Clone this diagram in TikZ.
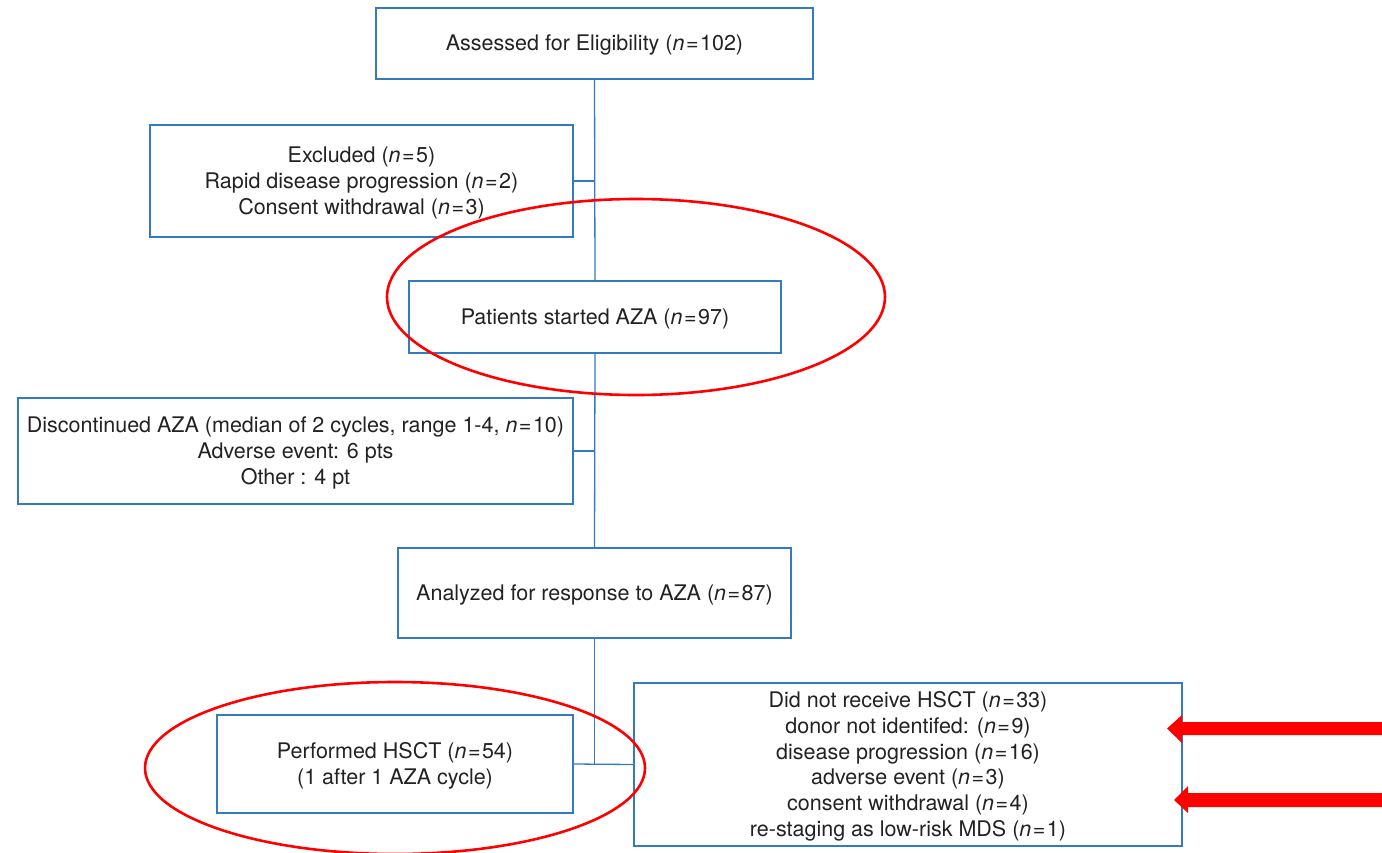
\documentclass[tikz,border=0pt]{standalone}
\usepackage{fontspec}
\setmainfont{TeX Gyre Heros}
\usetikzlibrary{positioning}
\definecolor{boxblue}{RGB}{52,122,190}
\definecolor{txt}{RGB}{34,34,34}
\newcommand{\nn}[1]{(\textit{n}\kern1.5pt=\kern1.5pt#1)}
\begin{document}
\begin{tikzpicture}[x=1pt,y=-1pt,
  flowbox/.style={draw=boxblue,line width=1.3pt,align=center,text=txt,inner sep=0pt,
    text depth=1pt,font=\fontsize{21.5}{25.8}\selectfont},
  link/.style={draw=boxblue,line width=1.3pt},
  redring/.style={draw=red,line width=2.6pt}]
\useasboundingbox (0,0) rectangle (1382,852);
\node[flowbox,minimum width=437pt,minimum height=71pt] (assess) at (594.5,43.5) {Assessed for Eligibility \nn{102}};
\node[flowbox,minimum width=423pt,minimum height=112pt] (excl) at (361.5,181) {Excluded \nn{5}\\Rapid disease progression \nn{2}\\Consent withdrawal \nn{3}};
\node[flowbox,minimum width=372pt,minimum height=72pt] (start) at (595,317) {Patients started AZA \nn{97}};
\node[flowbox,minimum width=555pt,minimum height=106pt] (disc) at (295.5,451) {Discontinued AZA (median of 2 cycles, range 1-4, \textit{n}\kern1.5pt=\kern1.5pt10)\\Adverse event: 6 pts\\Other : 4 pt};
\node[flowbox,minimum width=393pt,minimum height=90pt] (anal) at (594.5,593) {Analyzed for response to AZA \nn{87}};
\node[flowbox,minimum width=356pt,minimum height=98pt] (hsct) at (395,764) {Performed HSCT \nn{54}\\(1 after 1 AZA cycle)};
\node[flowbox,minimum width=548pt,minimum height=163pt] (nohsct) at (908,764.5) {Did not receive HSCT \nn{33}\\donor not identifed: \nn{9}\\disease progression \nn{16}\\adverse event \nn{3}\\consent withdrawal \nn{4}\\re-staging as low-risk MDS \nn{1}};
\draw[link] (assess.south) -- (start.north);
\draw[link] (excl.east) -- (excl.east -| assess.south);
\draw[link] (start.south) -- (anal.north);
\draw[link] (disc.east) -- (disc.east -| start.south);
\draw[link] (anal.south) -- (anal.south |- hsct.east);
\draw[link] (hsct.east) -- (nohsct.west);
\draw[redring] (636,297) ellipse [x radius=249pt, y radius=98pt];
\draw[redring] (395,768) ellipse [x radius=250pt, y radius=86pt];
\fill[red] (1382,722) -- (1182,722) -- (1182,715) -- (1167,728.5) -- (1182,743) -- (1182,735) -- (1382,735) -- cycle;
\fill[red] (1382,793) -- (1188,793) -- (1188,786) -- (1174,800) -- (1188,813) -- (1188,807) -- (1382,807) -- cycle;
\end{tikzpicture}
\end{document}
